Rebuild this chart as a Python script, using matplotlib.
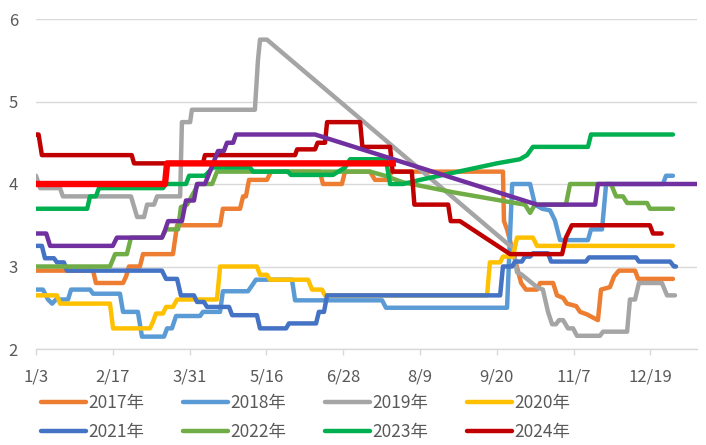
import matplotlib
matplotlib.use("Agg")
import matplotlib.pyplot as plt

plt.rcParams['font.family'] = ['Noto Sans CJK SC', 'DejaVu Sans']

# ---- data (x = trading-day index on a category axis, y = value) ----
tick_pos = [0, 30, 60, 90, 120, 150, 180, 210, 240]
tick_labels = ["1/3", "2/17", "3/31", "5/16", "6/28", "8/9", "9/20", "11/7", "12/19"]

x_2017 = [0, 22.3, 23.4, 34, 35.2, 36.3, 40.6, 41.8, 53.5, 55.1, 71.9, 73, 79.7, 80.9, 82, 83.2, 90.2, 91.8,
          110.9, 112.1, 119.5, 120.7, 130.5, 132.4, 137.1, 139.1, 182.4, 182.8, 184, 189.5, 191.4, 195.7,
          196.9, 202, 203.5, 205.9, 207.4, 211, 212.5, 215.2, 217.6, 219.5, 220.7, 224.2, 225.8, 227.7,
          234, 235.2, 248.8]
y_2017 = [2.95, 2.95, 2.8, 2.8, 2.88, 3.0, 3.0, 3.15, 3.15, 3.5, 3.5, 3.7, 3.7, 3.85, 3.85, 4.05, 4.05, 4.15,
          4.15, 4.0, 4.0, 4.15, 4.15, 4.05, 4.05, 4.15, 4.15, 3.55, 3.45, 2.8, 2.72, 2.72,
          2.8, 2.8, 2.65, 2.62, 2.55, 2.52, 2.45, 2.42, 2.38, 2.35, 2.72, 2.75, 2.88, 2.95,
          2.95, 2.85, 2.85]

x_2018 = [0, 2.7, 4.7, 6.3, 7.8, 12.5, 13.7, 21.1, 22.3, 32.8, 34, 39.8, 41.4, 50, 51.2, 53.1, 54.7, 64.1,
          65.2, 71.9, 73, 82.8, 84.4, 85.9, 100, 101.2, 135.2, 136.7, 184, 186, 193, 194.9, 197.7, 200.8,
          202.7, 204.7, 215.6, 216.8, 221.1, 222.7, 244.9, 246.1, 248.8]
y_2018 = [2.72, 2.72, 2.6, 2.55, 2.6, 2.6, 2.72, 2.72, 2.67, 2.67, 2.45, 2.45, 2.15, 2.15, 2.25, 2.25, 2.4, 2.4,
          2.45, 2.45, 2.7, 2.7, 2.77, 2.84, 2.84, 2.59, 2.59, 2.5, 2.5, 4.0, 4.0, 3.75, 3.7, 3.68,
          3.56, 3.32, 3.32, 3.45, 3.45, 4.0, 4.0, 4.1, 4.1]

x_2019 = [0, 1.6, 9.4, 10.5, 37.1, 39.5, 42.2, 43.4, 46.1, 47.3, 56.3, 57, 60.2, 60.9, 85.5, 86.7, 87.5, 90.2,
          185.2, 186.3, 187.9, 189.8, 195.7, 198, 200, 201.6, 203.1, 204.3, 205.9, 207.8, 209.8, 211.3,
          220.3, 221.5, 230.9, 232, 234, 235.5, 244.5, 246.5, 249.6]
y_2019 = [4.1, 3.95, 3.95, 3.85, 3.85, 3.6, 3.6, 3.75, 3.75, 3.85, 3.85, 4.75, 4.75, 4.9, 4.9, 5.5, 5.75, 5.75,
          3.25, 3.25, 2.93, 2.9, 2.75, 2.72, 2.45, 2.3, 2.3, 2.35, 2.35, 2.25, 2.25, 2.16,
          2.16, 2.21, 2.21, 2.6, 2.6, 2.8, 2.8, 2.65, 2.65]

x_2020 = [0, 8.2, 9.4, 28.9, 30.1, 44.5, 45.7, 46.9, 49.6, 50.8, 53.5, 55.1, 70.7, 71.9, 86.3, 87.5, 90.2,
          91.4, 106.3, 107.8, 111.7, 112.9, 176.2, 177.3, 181.3, 182.4, 186.3, 187.9, 194.1, 195.7, 248.8]
y_2020 = [2.65, 2.65, 2.55, 2.55, 2.25, 2.25, 2.33, 2.43, 2.43, 2.51, 2.51, 2.6, 2.6, 3.0, 3.0, 2.9, 2.9,
          2.84, 2.84, 2.72, 2.72, 2.65, 2.65, 3.05, 3.05, 3.12, 3.12, 3.35, 3.35, 3.25, 3.25]

x_2021 = [0, 2.3, 3.5, 7, 8.2, 10.9, 12.1, 49.2, 50.8, 55.1, 56.6, 61.7, 62.9, 65.6, 66.8, 75.4, 76.6, 86.3,
          87.5, 97.7, 98.8, 109.4, 110.5, 112.5, 113.7, 181.3, 182.4, 186, 187.1, 189.8, 191, 193, 194.1,
          200, 201.2, 214.8, 216, 234.4, 235.5, 247.7, 249.2, 250]
y_2021 = [3.25, 3.25, 3.1, 3.1, 3.05, 3.05, 2.95, 2.95, 2.85, 2.85, 2.65, 2.65, 2.57, 2.57, 2.51, 2.51, 2.41, 2.41,
          2.25, 2.25, 2.31, 2.31, 2.45, 2.45, 2.65, 2.65, 3.0, 3.0, 3.06, 3.06, 3.12, 3.12, 3.16,
          3.16, 3.06, 3.06, 3.11, 3.11, 3.06, 3.06, 3.0, 3.0]

x_2022 = [0, 28.9, 30.9, 35.5, 37.1, 49.2, 50.8, 55.5, 56.6, 59, 61.7, 63.3, 68.8, 70.7, 130.5, 136.3, 143.4,
          162.9, 185.2, 191, 193, 194.9, 207, 208.6, 224.6, 226.6, 229.3, 230.9, 238.7, 239.8, 248.8]
y_2022 = [3.0, 3.0, 3.15, 3.15, 3.35, 3.35, 3.45, 3.45, 3.72, 3.75, 3.9, 4.0, 4.0, 4.15, 4.15, 4.1, 4.02,
          3.9, 3.78, 3.75, 3.65, 3.75, 3.75, 4.0, 4.0, 3.85, 3.85, 3.77, 3.77, 3.7, 3.7]

x_2023 = [0, 20, 21.1, 23.4, 24.6, 49.6, 50.8, 58.6, 59.8, 66, 69.1, 83.6, 84.8, 98.4, 99.6, 116, 120.7, 122.7,
          136.7, 138.3, 143.4, 150, 165, 180, 189, 191.8, 194.1, 215.6, 216.8, 248.8]
y_2023 = [3.7, 3.7, 3.85, 3.85, 3.95, 3.95, 4.0, 4.0, 4.1, 4.1, 4.2, 4.2, 4.15, 4.15, 4.11, 4.11, 4.2, 4.3,
          4.3, 4.0, 4.0, 4.05, 4.15, 4.25, 4.3, 4.35, 4.45, 4.45, 4.6, 4.6]

x_2024 = [0, 1.0, 2.3, 37.4, 38.3, 65.2, 66, 101.2, 102, 109, 110, 112.9, 113.7, 126.6, 127.5, 138.3, 139.3,
          146.8, 147.8, 161, 162, 165.6, 185.2, 205.5, 207, 209.3, 239.8, 241, 244.4]
y_2024 = [4.6, 4.6, 4.35, 4.35, 4.25, 4.25, 4.35, 4.35, 4.42, 4.42, 4.5, 4.5, 4.75, 4.75, 4.45, 4.45, 4.15,
          4.15, 3.75, 3.75, 3.55, 3.55, 3.15, 3.15, 3.35, 3.5, 3.5, 3.4, 3.4]

x_purple = [0, 4, 5.5, 30, 31.6, 49.2, 50.4, 51.6, 57, 58.6, 61.7, 62.9, 66, 71.1, 73.4, 74.6, 77, 78.1,
            109, 195.7, 218.4, 219.5, 258.2]
y_purple = [3.4, 3.4, 3.25, 3.25, 3.35, 3.35, 3.44, 3.55, 3.55, 3.8, 3.8, 4.0, 4.0, 4.4, 4.4, 4.5, 4.5, 4.6,
            4.6, 3.75, 3.75, 4.0, 4.0]

x_red = [0, 50.4, 51.2, 140.6]
y_red = [4.0, 4.0, 4.25, 4.25]

series = [
    ("2017年", x_2017, y_2017, "#ED7D31"),
    ("2018年", x_2018, y_2018, "#5B9BD5"),
    ("2019年", x_2019, y_2019, "#A5A5A5"),
    ("2020年", x_2020, y_2020, "#FFC000"),
    ("2021年", x_2021, y_2021, "#4472C4"),
    ("2022年", x_2022, y_2022, "#70AD47"),
    ("2023年", x_2023, y_2023, "#00B050"),
    ("2024年", x_2024, y_2024, "#C00000"),
]

fig = plt.figure(figsize=(7.06, 4.45), dpi=100)
ax = fig.add_axes([36/706, 1-349/445, (697-36)/706, (349-19)/445])

lw = 3.2
handles = []
for name, xs, ys, c in series:
    h, = ax.plot(xs, ys, color=c, lw=lw, solid_capstyle='round', solid_joinstyle='round', label=name)
    handles.append(h)
ax.plot(x_purple, y_purple, color="#7030A0", lw=lw, solid_capstyle='round', solid_joinstyle='round')
ax.plot(x_red, y_red, color="#FF0000", lw=4.6, solid_capstyle='butt')

ax.set_xlim(0, 258.2)
ax.set_ylim(2, 6)
ax.set_yticks([2, 3, 4, 5, 6])
ax.set_xticks(tick_pos)
ax.set_xticklabels(tick_labels)
ax.grid(axis='y', color='#D9D9D9', lw=1.0)
ax.set_axisbelow(True)
for s in ['top', 'right', 'left']:
    ax.spines[s].set_visible(False)
ax.spines['bottom'].set_color('#D9D9D9')
ax.spines['bottom'].set_linewidth(1.0)
ax.tick_params(axis='y', length=0, pad=13, labelsize=12, labelcolor='#595959')
ax.tick_params(axis='x', length=4, width=1.0, color='#D9D9D9', pad=10, labelsize=12, labelcolor='#595959')

# legend is filled column-first by matplotlib; reorder so rows read 2017..2020 / 2021..2024
order = [0, 4, 1, 5, 2, 6, 3, 7]
leg = fig.legend(handles=[handles[i] for i in order], loc='upper left',
                 bbox_to_anchor=(41/706, 1-394/445),
                 ncol=4, frameon=False, fontsize=12.5, handlelength=2.6, handletextpad=0.15,
                 columnspacing=2.2, labelspacing=0.62, borderpad=0, borderaxespad=0)
for t in leg.get_texts():
    t.set_color('#595959')

fig.savefig("out.png", dpi=100)
